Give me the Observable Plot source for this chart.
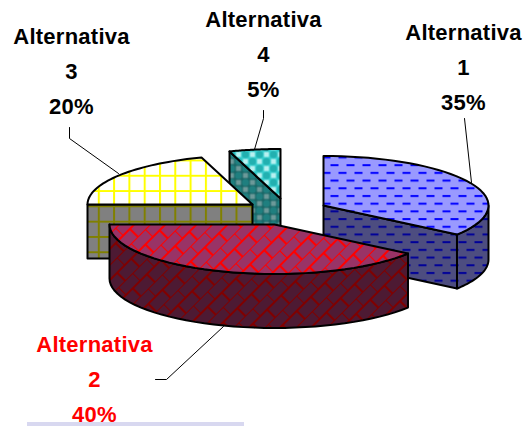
<!DOCTYPE html>
<html>
<head>
<meta charset="utf-8">
<script src="https://cdn.jsdelivr.net/npm/d3@7"></script>
<script src="https://cdn.jsdelivr.net/npm/@observablehq/plot@0.6"></script>
<style>
html,body{margin:0;padding:0;background:#fff;}
svg{display:block;}
</style>
</head>
<body>
<div id="chart"></div>
<script>
// data
const names = ["Alternativa\n1", "Alternativa\n2", "Alternativa\n3", "Alternativa\n4"];
const shares = [35, 40, 20, 5];
const labelColors = ["black", "#ff0000", "black", "black"];
// layout of the exploded 3-D pie
const apexX = [323, 274, 252, 280];
const apexY = [205, 224, 204, 198];
const radius = 165, tilt = 0.3, depth = 54;
const labelX = [463, 94, 71, 263];
const labelY = [63, 375, 67, 50];
const topFills = ["url(#blueTop)", "url(#redTop)", "url(#yelTop)", "url(#cyanTop)"];
const sideFills = ["url(#blueSide)", "url(#redSide)", "url(#yelSide)", "url(#cyanSide)"];
const leaders = [
  [[464,118],[471,182]],
  [[155,379],[166,379],[223,326]],
  [[69,127],[69,138],[118,173]],
  [[263,110],[263,118],[254,149]]
];

// slice geometry from the shares
let acc = 0;
const slices = shares.map((v, i) => {
  const a0 = acc * 3.6; acc += v; const a1 = acc * 3.6;
  return {i, a0, a1};
});
const pt = (s, deg, dz = 0) => {
  const t = deg * Math.PI / 180;
  return {x: apexX[s.i] + radius * Math.sin(t), y: apexY[s.i] - radius * tilt * Math.cos(t) + dz};
};
const arc = (s, a0, a1, dz = 0) => d3.range(0, 41).map(k => pt(s, a0 + (a1 - a0) * k / 40, dz));
const apex = (s, dz = 0) => ({x: apexX[s.i], y: apexY[s.i] + dz});

let uid = 0;
const rows = [];
const addPoly = (pts, fill) => {
  const id = uid++;
  [...pts, pts[0]].forEach(p => rows.push({x: p.x, y: p.y, id, fill}));
};
// painter's order: back slices first
[3, 2, 0, 1].forEach(i => {
  const s = slices[i];
  if (s.a0 > 180 && s.a0 < 360) addPoly([apex(s), pt(s, s.a0), pt(s, s.a0, depth), apex(s, depth)], sideFills[i]);
  if (s.a1 > 0 && s.a1 < 180) addPoly([apex(s), pt(s, s.a1), pt(s, s.a1, depth), apex(s, depth)], sideFills[i]);
  const r0 = Math.max(s.a0, 90), r1 = Math.min(s.a1, 270);
  if (r1 > r0) addPoly([...arc(s, r0, r1), ...arc(s, r0, r1, depth).reverse()], sideFills[i]);
  addPoly([apex(s), ...arc(s, s.a0, s.a1)], topFills[i]);
});

const labels = names.map((n, i) => ({x: labelX[i], y: labelY[i], text: `${n}\n${shares[i]}%`, color: labelColors[i]}));
const leaderRows = leaders.flatMap((l, id) => l.map(([x, y]) => ({x, y, id})));
const strip = [{x1: 27, x2: 244, y1: 422, y2: 426}];

function patterns() {
  const defs = d3.create("svg:defs");
  const pat = (id, w, h, bg, tf) => {
    const p = defs.append("pattern").attr("id", id).attr("patternUnits", "userSpaceOnUse").attr("width", w).attr("height", h);
    if (tf) p.attr("patternTransform", tf);
    p.append("rect").attr("width", w).attr("height", h).attr("fill", bg);
    return p;
  };
  const dash = (id, bg, c) => {
    const p = pat(id, 16, 15.4, bg);
    p.append("rect").attr("x", 2).attr("y", 2).attr("width", 8).attr("height", 2).attr("fill", c);
    p.append("rect").attr("x", 10).attr("y", 9.7).attr("width", 8).attr("height", 2).attr("fill", c);
    p.append("rect").attr("x", -6).attr("y", 9.7).attr("width", 8).attr("height", 2).attr("fill", c);
  };
  dash("blueTop", "#9999ff", "#0000ff");
  dash("blueSide", "#4d4d80", "#000099");
  const brick = (id, bg, c) => {
    const p = pat(id, 20, 22, bg, "rotate(-45)");
    p.append("path").attr("d", "M0,0H20M0,11H20M0,0V11M10,11V22").attr("stroke", c).attr("stroke-width", 2.2).attr("fill", "none");
  };
  brick("redTop", "#993366", "#ff0000");
  brick("redSide", "#4d1a33", "#800000");
  const grid = (id, bg, c) => {
    const p = pat(id, 15.3, 15.3, bg, "translate(5.5,6)");
    p.append("path").attr("d", "M1,0V15.3M0,1H15.3").attr("stroke", c).attr("stroke-width", 2).attr("fill", "none");
  };
  grid("yelTop", "#ffffff", "#ffff00");
  grid("yelSide", "#808080", "#808000");
  const bubble = (id, bg, lo, hi) => {
    const p = pat(id, 14, 14, bg);
    [[7,0],[0,7],[14,7],[7,14]].forEach(([x,y]) => p.append("circle").attr("cx", x).attr("cy", y).attr("r", 3.5).attr("fill", lo));
    [[0,0],[14,0],[0,14],[14,14],[7,7]].forEach(([x,y]) => p.append("rect").attr("x", x-2.5).attr("y", y-2.5).attr("width", 5).attr("height", 5).attr("fill", hi));
  };
  bubble("cyanTop", "#33cccc", "#22b0b0", "#b8f0f0");
  bubble("cyanSide", "#1a6666", "#1f7f7f", "#6c9999");
  return defs.node();
}

const chart = Plot.plot({
  width: 525, height: 426,
  margin: 0,
  x: {domain: [0, 525], range: [0, 525], axis: null},
  y: {domain: [0, 426], range: [0, 426], axis: null},
  style: {background: "transparent", letterSpacing: "0.25px"},
  marks: [
    patterns,
    Plot.rect(strip, {x1: "x1", x2: "x2", y1: "y1", y2: "y2", fill: "#d8d8f0"}),
    ...d3.groups(rows, d => d.id).map(([, pts]) => Plot.line(pts, {
      x: "x", y: "y", fill: pts[0].fill, stroke: "black", strokeWidth: 2, strokeLinejoin: "round", curve: "linear"
    })),
    Plot.line(leaderRows, {x: "x", y: "y", z: "id", stroke: "black", strokeWidth: 1}),
    Plot.text(labels, {
      x: "x", y: "y", text: "text", fill: "color", lineHeight: 1.59,
      fontFamily: "Liberation Sans", fontWeight: "bold", fontSize: 22, textAnchor: "middle"
    })
  ]
});
document.getElementById("chart").append(chart);
</script>
</body>
</html>
